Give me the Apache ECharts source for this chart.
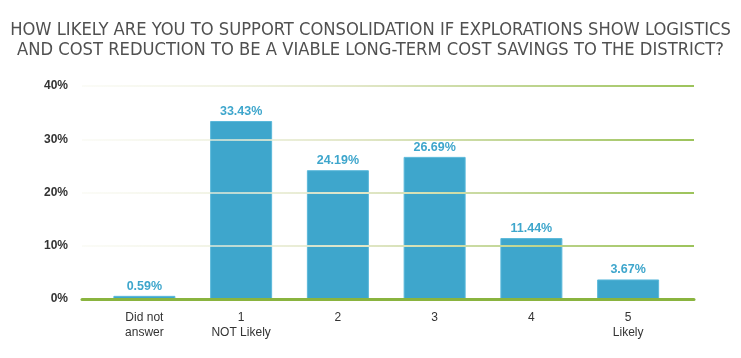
<!DOCTYPE html>
<html>
<head>
<meta charset="utf-8">
<script src="https://cdn.jsdelivr.net/npm/echarts@6/dist/echarts.min.js"></script>
<style>
html,body{margin:0;padding:0;background:#fff;}
#chart{width:741px;height:358px;}
</style>
</head>
<body>
<div id="chart"></div>
<script>
const titleLines = [
  "HOW LIKELY ARE YOU TO SUPPORT CONSOLIDATION IF EXPLORATIONS SHOW LOGISTICS",
  "AND COST REDUCTION TO BE A VIABLE LONG-TERM COST SAVINGS TO THE DISTRICT?"
];
const categories = ["Did not\nanswer", "1\nNOT Likely", "2", "3", "4", "5\nLikely"];
const values = [0.59, 33.43, 24.19, 26.69, 11.44, 3.67];
const yTicks = [0, 10, 20, 30, 40];

const chart = echarts.init(document.getElementById('chart'));
const gridGrad = new echarts.graphic.LinearGradient(0, 0, 1, 0, [
  {offset: 0, color: 'rgba(245,246,235,0.4)'},
  {offset: 0.45, color: '#e2e7c8'},
  {offset: 1, color: '#9cc35a'}
]);
chart.setOption({
  animation: false,
  backgroundColor: '#ffffff',
  title: {
    text: titleLines.join('\n'),
    left: 'center',
    top: 15,
    textStyle: {
      fontFamily: '"Liberation Sans Narrow", "DejaVu Sans Condensed", Arial, sans-serif',
      fontWeight: 'normal',
      fontSize: 18.2,
      color: '#505050',
      lineHeight: 20
    }
  },
  grid: [
    {left: 82, right: 47, top: 86, bottom: 59},
    {left: 96, right: 64.5, top: 86, bottom: 59}
  ],
  xAxis: [
    {
      gridIndex: 0, type: 'value', min: 0, max: 1, z: 4,
      axisLine: {show: true, lineStyle: {color: '#8ab43f', width: 3}},
      axisTick: {show: false}, axisLabel: {show: false}, splitLine: {show: false}
    },
    {
      gridIndex: 1, type: 'category', data: categories,
      axisLine: {show: false}, axisTick: {show: false},
      axisLabel: {
        color: '#333333', fontSize: 12, lineHeight: 15, margin: 11,
        fontFamily: 'Arial, "Liberation Sans", sans-serif'
      }
    }
  ],
  yAxis: [
    {
      gridIndex: 0, type: 'value', min: yTicks[0], max: yTicks[yTicks.length - 1], interval: 10, z: 3,
      axisLine: {show: false}, axisTick: {show: false},
      axisLabel: {
        formatter: '{value}%', color: '#333333', fontWeight: 'bold', fontSize: 12, margin: 14,
        fontFamily: 'Arial, "Liberation Sans", sans-serif'
      },
      splitLine: {
        show: true,
        showMinLine: false,
        lineStyle: {color: gridGrad, width: 2}
      }
    },
    {
      gridIndex: 1, type: 'value', min: yTicks[0], max: yTicks[yTicks.length - 1], show: false,
      splitLine: {show: false}
    }
  ],
  series: [{
    type: 'bar',
    xAxisIndex: 1, yAxisIndex: 1,
    data: values,
    barWidth: 62,
    z: 2,
    itemStyle: {color: '#3ea6cc', borderColor: '#5ab8da', borderWidth: 1},
    label: {
      show: true, position: 'top', distance: 3,
      formatter: p => p.value.toFixed(2) + '%',
      color: '#3ea6cc', fontWeight: 'bold', fontSize: 12.5,
      fontFamily: 'Arial, "Liberation Sans", sans-serif'
    }
  }]
});
</script>
</body>
</html>
